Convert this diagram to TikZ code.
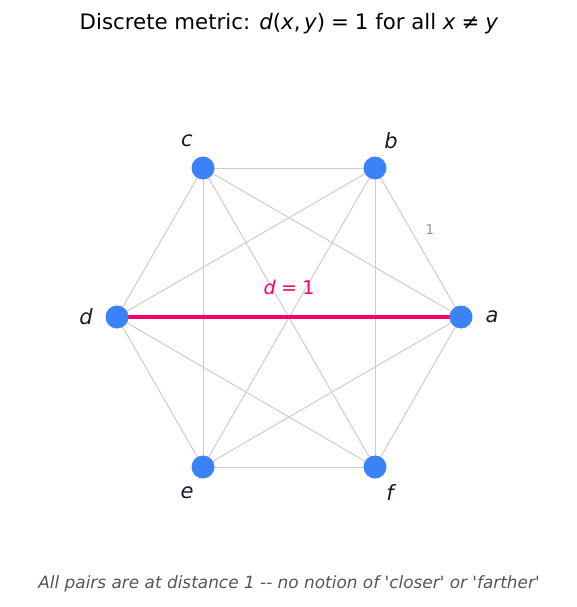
\documentclass[tikz,border=0pt]{standalone}
\usepackage{fontspec}
\setmainfont{DejaVu Sans}[Ligatures=TeXOff]
\usetikzlibrary{backgrounds}
\definecolor{nodeblue}{HTML}{3B82F6}
\definecolor{edgegray}{HTML}{CCCCCC}
\definecolor{hot}{HTML}{F5006A}
\definecolor{labeldark}{HTML}{1A1A2E}
\definecolor{capgray}{HTML}{555555}
\begin{document}
\begin{tikzpicture}[x=1pt,y=-1pt,
  pt/.style={circle,fill=nodeblue,draw=none,minimum size=23pt,inner sep=0pt},
  lbl/.style={font=\fontsize{21}{25}\selectfont\itshape,text=labeldark,inner sep=0pt},
  edge/.style={draw=edgegray,line width=1pt},
  hotedge/.style={draw=hot,line width=3.6pt}]
\useasboundingbox (0,0) rectangle (577,607);
\node[font=\fontsize{21.3}{25}\selectfont,inner sep=0pt] (title) at (289,24) {Discrete metric: \textit{d}(\textit{x},\,\textit{y})\;=\;1 for all \textit{x}\;≠\;\textit{y}};
\node[pt] (a) at (461,317) {};
\node[pt] (b) at (375,168) {};
\node[pt] (c) at (203,168) {};
\node[pt] (d) at (117,317) {};
\node[pt] (e) at (203,467) {};
\node[pt] (f) at (375,467) {};
\node[lbl] (la) at (492,317) {a};
\node[lbl] (lb) at (391,141) {b};
\node[lbl] (lc) at (187,141) {c};
\node[lbl] (ld) at (86,317) {d};
\node[lbl] (le) at (187,493) {e};
\node[lbl] (lf) at (390,493) {f};
\node[font=\fontsize{13.5}{16}\selectfont,text=gray!85,inner sep=0pt] (one) at (430,230) {1};
\node[font=\fontsize{19}{22}\selectfont,text=hot,inner sep=0pt] (dlab) at (289,287) {\textit{d}\;=\;1};
\node[font=\fontsize{16.9}{20}\selectfont\itshape,text=capgray,inner sep=0pt] (cap) at (289,584) {All pairs are at distance 1 -- no notion of 'closer' or 'farther'};
\begin{scope}[on background layer]
\foreach \u/\v in {a/b,a/c,a/e,a/f,b/c,b/d,b/e,b/f,c/d,c/e,c/f,d/e,d/f,e/f}
  \draw[edge] (\u.center) -- (\v.center);
\draw[hotedge] (d.center) -- (a.center);
\end{scope}
\end{tikzpicture}
\end{document}
